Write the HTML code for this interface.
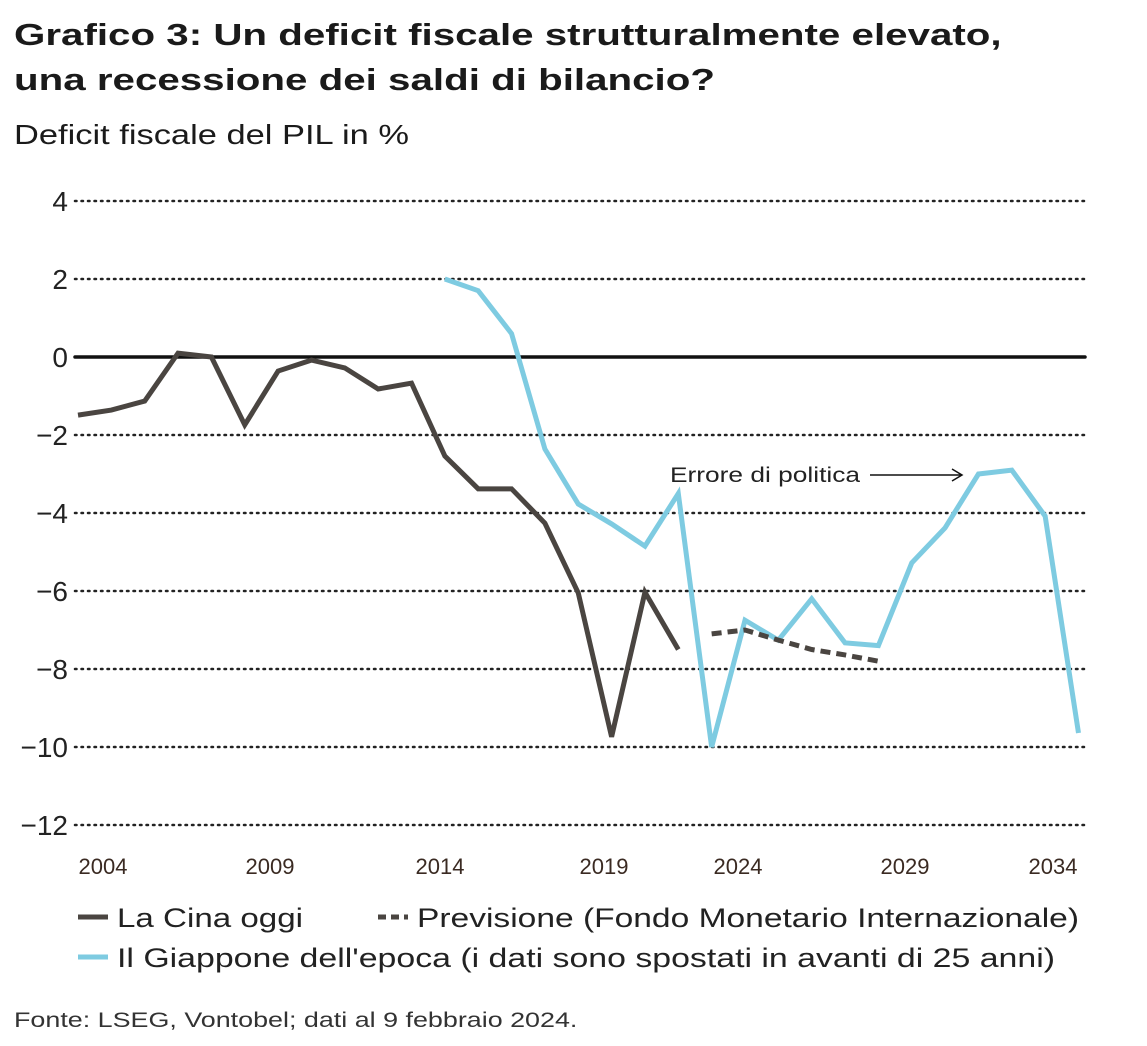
<!DOCTYPE html>
<html><head><meta charset="utf-8">
<style>
body{margin:0;background:#fff;font-family:"Liberation Sans",sans-serif;color:#1a1a1a;}
#wrap{position:relative;width:1147px;height:1046px;overflow:hidden;}
.t{position:absolute;white-space:nowrap;transform-origin:0 0;}
</style></head><body>
<div id="wrap">
<div class="t" style="left:14px;top:12px;font-size:31px;font-weight:bold;line-height:45px;transform:scaleX(1.3)">Grafico 3: Un deficit fiscale strutturalmente elevato,<br>una recessione dei saldi di bilancio?</div>
<div class="t" style="left:14px;top:119px;font-size:28px;transform:scaleX(1.23)">Deficit fiscale del PIL in %</div>
<svg id="chart" width="1147" height="1046" style="position:absolute;left:0;top:0"></svg>
<div class="t" style="left:14px;top:1009px;font-size:21px;color:#333;transform:scaleX(1.28)">Fonte: LSEG, Vontobel; dati al 9 febbraio 2024.</div>
</div>
<script>
const yTicks=[4,2,0,-2,-4,-6,-8,-10,-12];
const xTickYears=[2004,2009,2014,2019,2024,2029,2034];
const chinaYears=[2003,2004,2005,2006,2007,2008,2009,2010,2011,2012,2013,2014,2015,2016,2017,2018,2019,2020,2021];
const chinaValues=[-1.49,-1.36,-1.13,0.1,0,-1.74,-0.36,-0.08,-0.28,-0.82,-0.67,-2.54,-3.38,-3.38,-4.26,-6.05,-9.74,-6.03,-7.5];
const forecastYears=[2022,2023,2024,2025,2026,2027];
const forecastValues=[-7.1,-7.0,-7.26,-7.5,-7.64,-7.8];
const japanYears=[2014,2015,2016,2017,2018,2019,2020,2021,2022,2023,2024,2025,2026,2027,2028,2029,2030,2031,2032,2033];
const japanValues=[2.0,1.7,0.6,-2.36,-3.77,-4.28,-4.85,-3.5,-10.0,-6.75,-7.26,-6.2,-7.33,-7.4,-5.28,-4.38,-3.0,-2.9,-4.08,-9.64];
// pixel placement of the tick labels (layout, as in source chart)
const tickLabelPos=[103,270,440,604,738,905,1053];

const NS="http://www.w3.org/2000/svg";
const svg=document.getElementById('chart');
const x=yr=>78+(yr-2003)*33.35;
const y=v=>357-v*39;
function mk(tag,attrs){const e=document.createElementNS(NS,tag);for(const k in attrs)e.setAttribute(k,attrs[k]);svg.appendChild(e);return e;}
const FF='Liberation Sans, sans-serif';

yTicks.forEach(v=>{
  const g=mk('line',{x1:75,x2:1085,y1:y(v),y2:y(v),stroke:v===0?'#111':'#222','stroke-width':v===0?3.5:2.5,'stroke-dasharray':v===0?'none':'1.5 5','stroke-linecap':'round'});
  
  
  const t=mk('text',{x:68,y:y(v)+10,'text-anchor':'end','font-size':28,fill:'#222','font-family':FF});
  t.textContent=v<0?'\u2212'+Math.abs(v):String(v);
  
  
});
xTickYears.forEach((yr,i)=>{
  const t=mk('text',{x:tickLabelPos[i],y:874,'text-anchor':'middle','font-size':22,fill:'#3a2a22','font-family':FF});
  t.textContent=yr;
  
  
});
function path(ys,vs){return ys.map((yr,i)=>(i?'L':'M')+x(yr)+','+y(vs[i])).join(' ');}
const pj=mk('path',{d:path(japanYears,japanValues),fill:'none',stroke:'#7ecbe1','stroke-width':5});


const pc=mk('path',{d:path(chinaYears,chinaValues),fill:'none',stroke:'#4a4541','stroke-width':5});


const pf=mk('path',{d:path(forecastYears,forecastValues),fill:'none',stroke:'#4a4541','stroke-width':5,'stroke-dasharray':'10 6'});



const an=mk('text',{x:670,y:482,'font-size':21,fill:'#222','font-family':FF,textLength:190,lengthAdjust:'spacingAndGlyphs'});
an.textContent='Errore di politica';


const ar=mk('line',{x1:870,x2:961,y1:475,y2:475,stroke:'#111','stroke-width':1.5});


const ah=mk('path',{d:'M952,469 L962,475 L952,481',fill:'none',stroke:'#111','stroke-width':1.5});



const legend=[
 {x:78,y:917,c:'#4a4541',dash:'none',label:'La Cina oggi',w:186,name:'legend-china'},
 {x:378,y:917,c:'#4a4541',dash:'8 5',label:'Previsione (Fondo Monetario Internazionale)',w:662,name:'legend-forecast'},
 {x:78,y:957,c:'#7ecbe1',dash:'none',label:"Il Giappone dell'epoca (i dati sono spostati in avanti di 25 anni)",w:938,name:'legend-japan'}];
legend.forEach(l=>{
  const s=mk('line',{x1:l.x,x2:l.x+30,y1:l.y,y2:l.y,stroke:l.c,'stroke-width':5,'stroke-dasharray':l.dash});
  
  
  const t=mk('text',{x:l.x+39,y:l.y+10,'font-size':27,fill:'#222','font-family':FF,textLength:l.w,lengthAdjust:'spacingAndGlyphs'});
  t.textContent=l.label;
  
  
});
</script>
</body></html>
